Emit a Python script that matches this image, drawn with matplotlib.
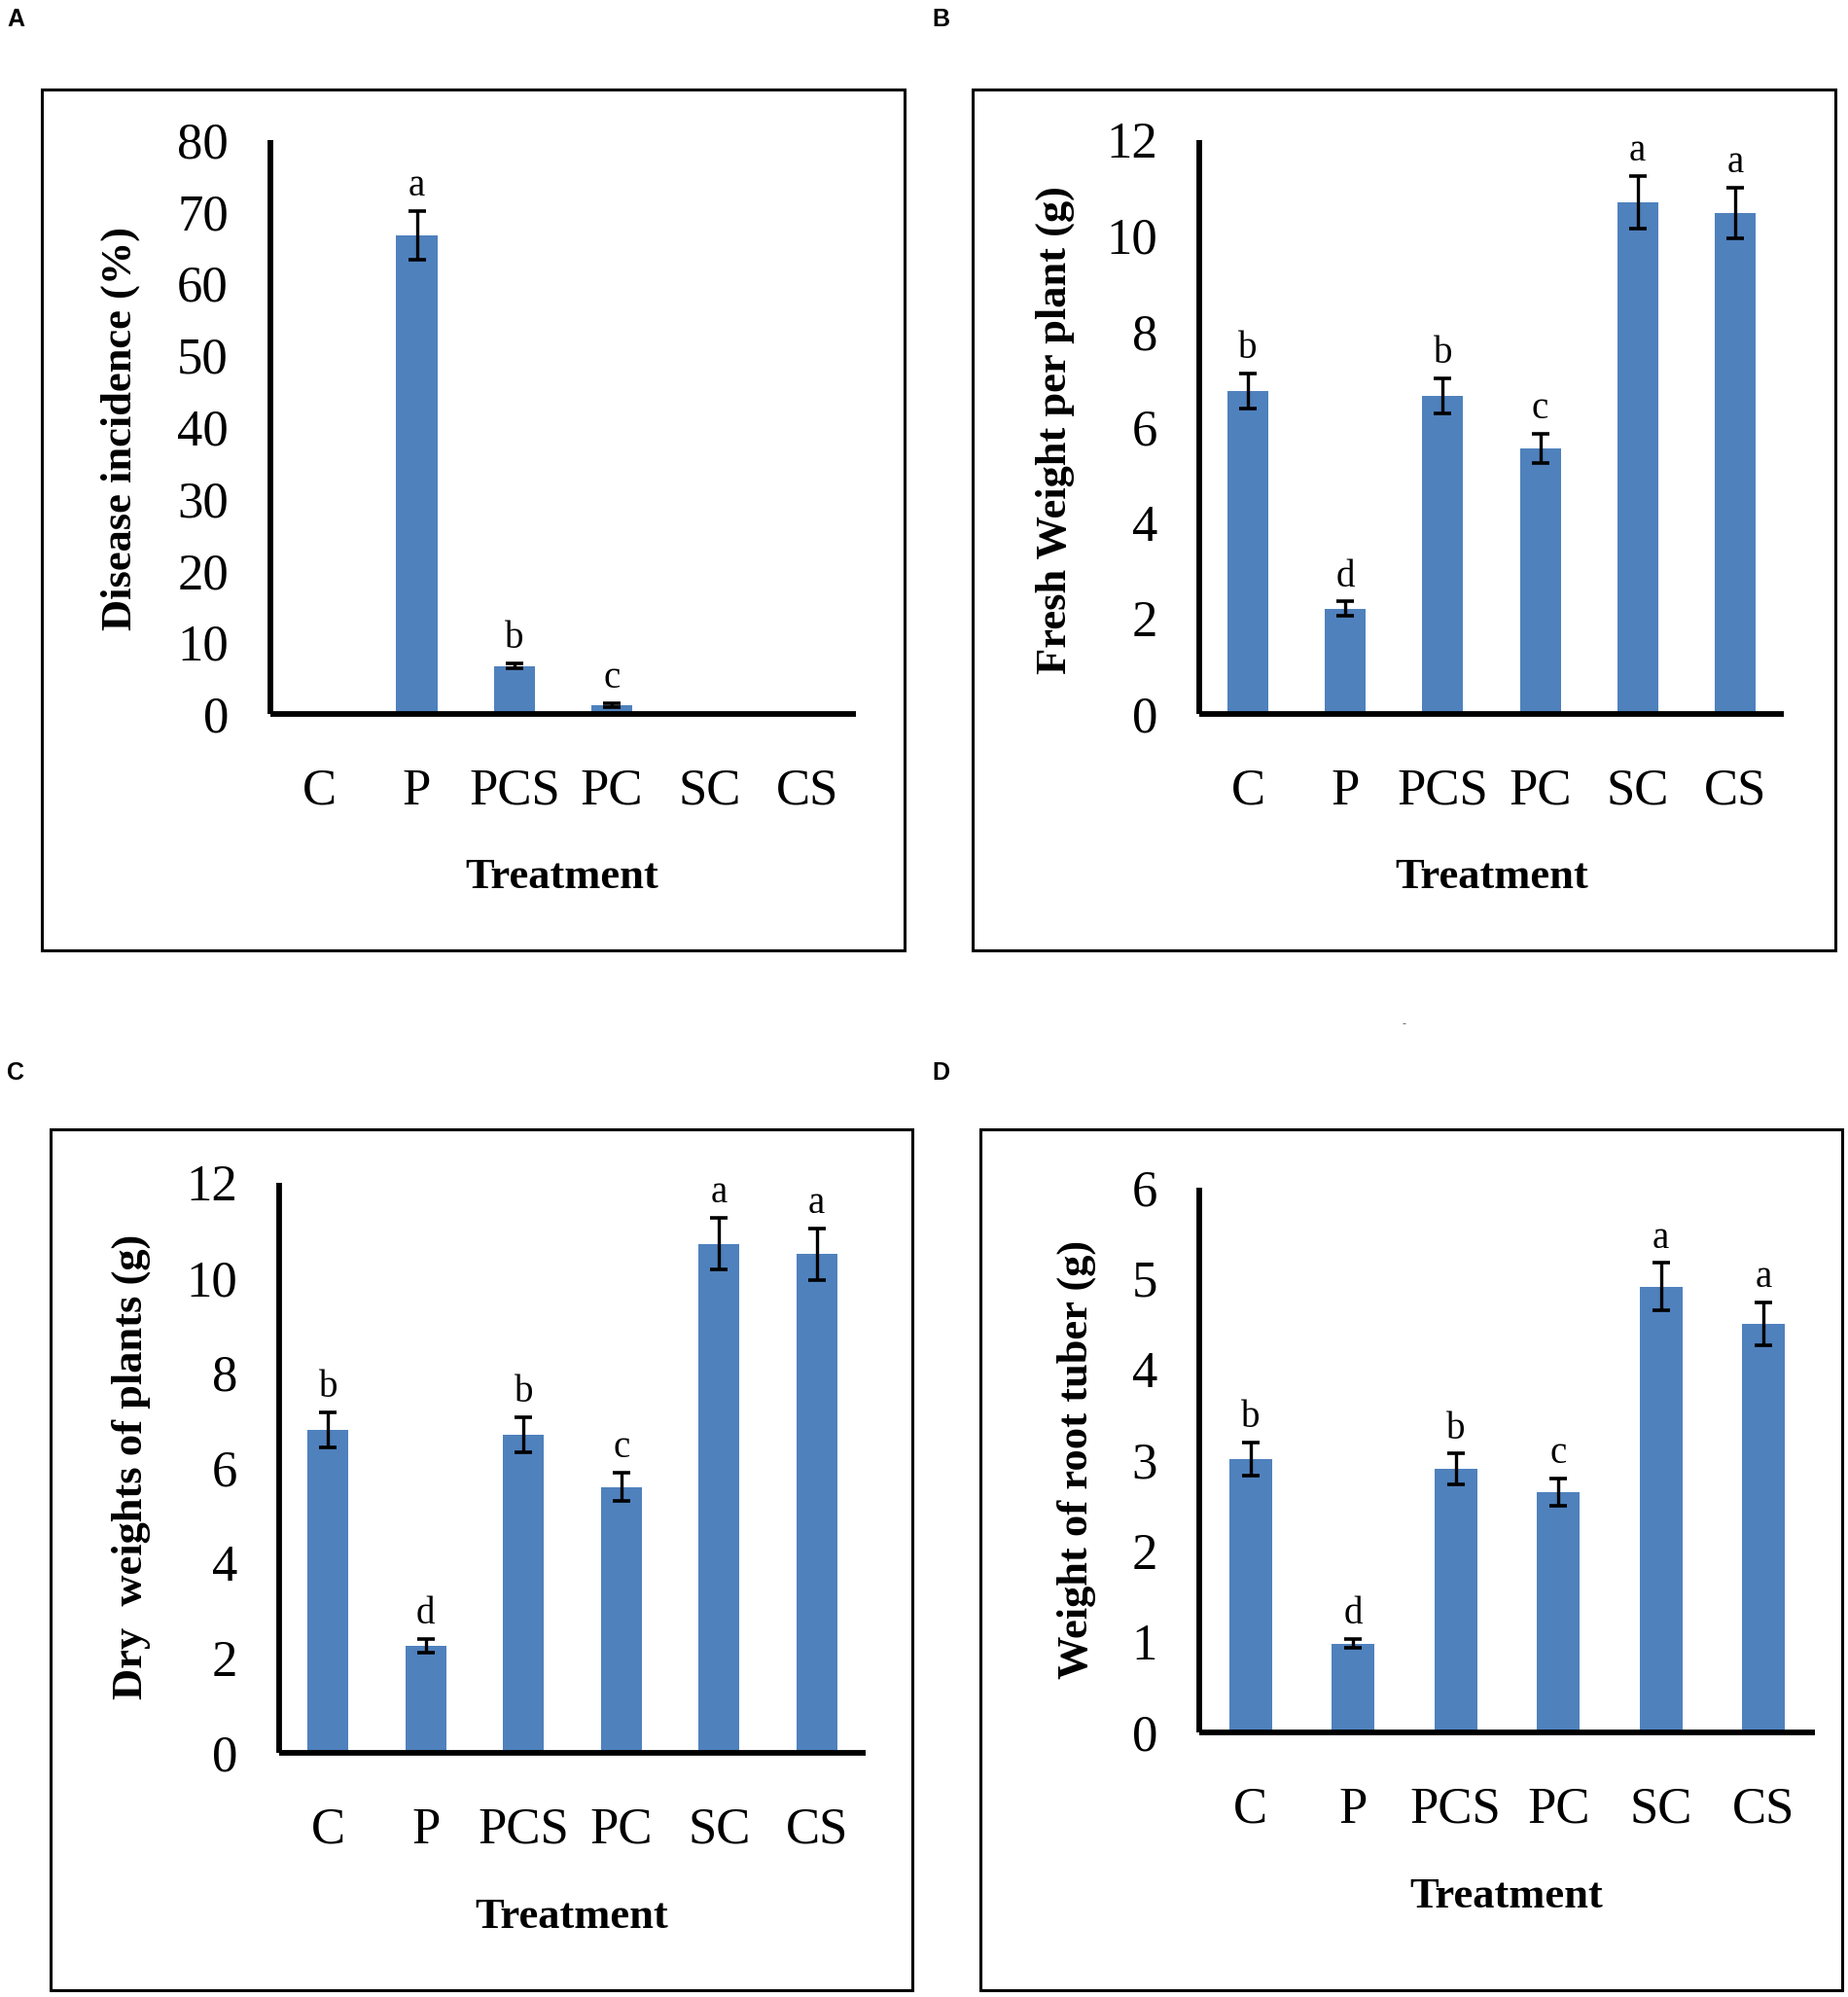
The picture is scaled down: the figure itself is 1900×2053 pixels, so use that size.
import matplotlib
matplotlib.use("Agg")
import matplotlib.pyplot as plt
from matplotlib.patches import Rectangle
import numpy as np

# ---------------- data ----------------
categories = ["C", "P", "PCS", "PC", "SC", "CS"]

disease_incidence = [0.0, 66.7, 6.7, 1.2, 0.0, 0.0]
disease_err = [0.0, 3.4, 0.3, 0.3, 0.0, 0.0]
disease_letters = ["", "a", "b", "c", "", ""]

fresh_weight = [6.75, 2.2, 6.65, 5.55, 10.7, 10.48]
fresh_err = [0.37, 0.15, 0.37, 0.3, 0.55, 0.53]
fresh_letters = ["b", "d", "b", "c", "a", "a"]

dry_weight = [6.8, 2.25, 6.7, 5.6, 10.72, 10.5]
dry_err = [0.37, 0.15, 0.37, 0.3, 0.54, 0.54]
dry_letters = ["b", "d", "b", "c", "a", "a"]

root_weight = [3.01, 0.98, 2.9, 2.65, 4.91, 4.5]
root_err = [0.18, 0.05, 0.17, 0.15, 0.26, 0.24]
root_letters = ["b", "d", "b", "c", "a", "a"]

ylabels = ["Disease incidence (%)", "Fresh Weight per plant (g)",
           "Dry  weights of plants (g)", "Weight of root tuber (g)"]
xlabel = "Treatment"
panel_tags = ["A", "B", "C", "D"]
ymax = [80, 12, 12, 6]
ystep = [10, 2, 2, 1]

# ---------------- layout helpers ----------------
W, H = 1900, 2053
fig = plt.figure(figsize=(W / 100, H / 100), dpi=100)
fig.patch.set_facecolor("white")

def fx(px):
    return px / W

def fy(py):
    return 1 - py / H

BAR_COLOR = "#4F81BD"
SERIF = "Liberation Serif"

# axes rectangles in pixels: left, right, top, bottom
axes_px = [
    (278, 880, 144, 734),
    (1233, 1834, 144, 734),
    (287, 890, 1216, 1802),
    (1233, 1866, 1221, 1781),
]
# outer frames in pixels: left, right, top, bottom
frames_px = [
    (43, 930, 92, 977),
    (1000, 1887, 92, 977),
    (52, 938, 1161, 2046),
    (1008, 1894, 1161, 2046),
]
ylabel_pos = [(124, 441), (1085, 442), (135, 1508), (1107, 1500)]
xlabel_pos = [(578, 913), (1534, 913), (588, 1982), (1549, 1961)]
tag_pos = [(16, 20), (967, 20), (16, 1103), (967, 1103)]

values_all = [disease_incidence, fresh_weight, dry_weight, root_weight]
errs_all = [disease_err, fresh_err, dry_err, root_err]
letters_all = [disease_letters, fresh_letters, dry_letters, root_letters]

x = np.arange(len(categories))

for i in range(4):
    l, r, t, b = axes_px[i]
    ax = fig.add_axes([fx(l), fy(b), (r - l) / W, (b - t) / H])
    vals = values_all[i]
    errs = errs_all[i]
    ax.bar(x, vals, width=0.42, color=BAR_COLOR, zorder=2)
    ax.errorbar(x, vals, yerr=errs, fmt="none", ecolor="black",
                elinewidth=2.4, capsize=6.8, capthick=2.6, zorder=3)
    for xi, v, e, lab in zip(x, vals, errs, letters_all[i]):
        if lab:
            ax.annotate(lab, (xi, v + e), xytext=(0, 5),
                        textcoords="offset points", ha="center", va="bottom",
                        fontsize=28, family=SERIF, zorder=4)
    ax.set_xlim(-0.5, 5.5)
    ax.set_ylim(0, ymax[i])
    ax.set_yticks(np.arange(0, ymax[i] + ystep[i] / 2, ystep[i]))
    ax.set_xticks(x)
    ax.set_xticklabels(categories)
    for sp in ["top", "right"]:
        ax.spines[sp].set_visible(False)
    for sp in ["left", "bottom"]:
        ax.spines[sp].set_linewidth(4.2)
        ax.spines[sp].set_color("black")
        ax.spines[sp].set_capstyle("butt")
    ax.tick_params(axis="both", length=0)
    ax.tick_params(axis="x", pad=40)
    ax.tick_params(axis="y", pad=31)
    for tl in ax.get_xticklabels() + ax.get_yticklabels():
        tl.set_fontfamily(SERIF)
        tl.set_fontsize(38)
    ax.set_facecolor("none")

    fl, fr, ft, fb = frames_px[i]
    fig.patches.append(Rectangle((fx(fl), fy(fb)), (fr - fl) / W, (fb - ft) / H,
                                 transform=fig.transFigure, fill=False,
                                 edgecolor="black", linewidth=2.2))
    yx, yy = ylabel_pos[i]
    fig.text(fx(yx), fy(yy), ylabels[i], rotation=90, ha="center", va="center",
             fontsize=32, fontweight="bold", family=SERIF)
    xx, xy = xlabel_pos[i]
    fig.text(fx(xx), fy(xy), xlabel, ha="center", va="baseline",
             fontsize=32, fontweight="bold", family=SERIF)
    tx, ty = tag_pos[i]
    fig.text(fx(tx), fy(ty), panel_tags[i], ha="center", va="center",
             fontsize=18, fontweight="bold", family="Liberation Sans")

fig.text(fx(1443), fy(1053), "-", ha="center", va="center", fontsize=9,
         color="#555555", family="Liberation Sans")

fig.savefig("out.png", dpi=100, facecolor="white")
